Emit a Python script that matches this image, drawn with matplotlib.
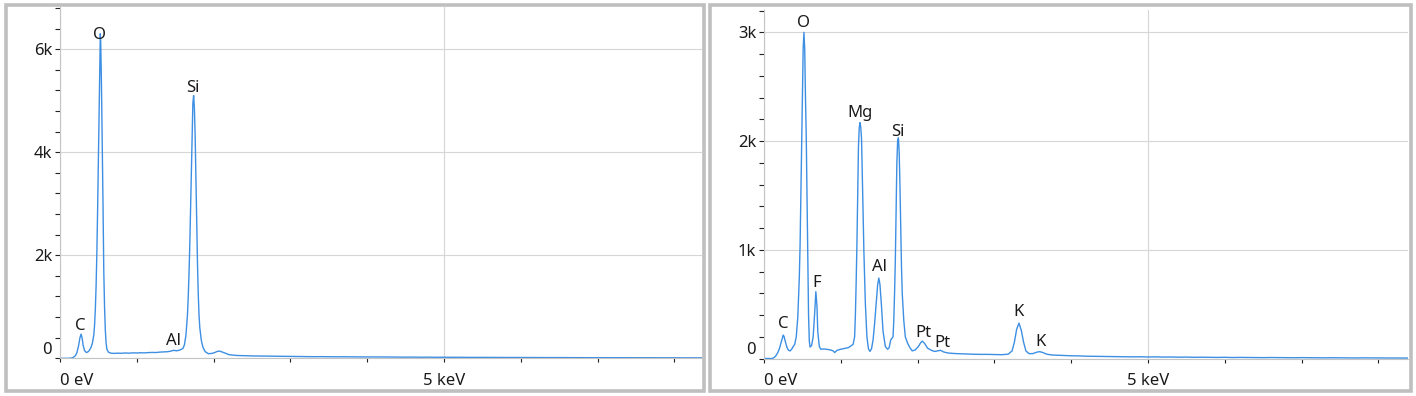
import matplotlib
matplotlib.use('Agg')
import matplotlib.pyplot as plt
from matplotlib.patches import Rectangle
from matplotlib.transforms import ScaledTranslation

plt.rcParams['font.family'] = ['Noto Sans', 'DejaVu Sans']

W, H = 1416, 396
line_color = '#3d8fe3'

# left spectrum (energy keV, counts)
left_energy = [0.00, 0.10, 0.14, 0.17, 0.20, 0.22, 0.24, 0.26, 0.275, 0.29, 0.30, 0.32, 0.34, 0.36,
               0.38, 0.40, 0.42, 0.44, 0.45, 0.46, 0.47, 0.48, 0.49, 0.50, 0.51, 0.52, 0.525, 0.53,
               0.54, 0.55, 0.56, 0.565, 0.57, 0.58, 0.59, 0.60, 0.61, 0.63, 0.66,
               0.70, 0.75, 0.80, 0.85, 0.90, 0.95, 1.00, 1.05, 1.10, 1.15, 1.20, 1.25, 1.30, 1.35,
               1.40, 1.44, 1.48, 1.52, 1.56,
               1.60, 1.62, 1.64, 1.66, 1.67, 1.68, 1.69, 1.70, 1.71, 1.72, 1.73, 1.74, 1.75, 1.76,
               1.77, 1.78, 1.79, 1.80, 1.81, 1.82, 1.84, 1.86, 1.89, 1.93, 1.98, 2.02, 2.05, 2.08,
               2.12, 2.16, 2.20, 2.30,
               2.4, 2.5, 2.6, 2.7, 2.8, 2.9, 3.0, 3.1, 3.2, 3.3, 3.4, 3.5, 3.6, 3.7, 3.8, 3.9,
               4.0, 4.1, 4.2, 4.3, 4.4, 4.5, 4.6, 4.7, 4.8, 4.9, 5.0, 5.1, 5.2, 5.3, 5.4, 5.5,
               5.6, 5.7, 5.8, 5.9, 6.0, 6.1, 6.2, 6.3, 6.4, 6.5, 6.6, 6.7, 6.8, 6.9, 7.0, 7.1,
               7.2, 7.3, 7.4, 7.5, 7.6, 7.7, 7.8, 7.9, 8.0, 8.1, 8.2, 8.3, 8.4]
left_counts = [0, 0, 3, 15, 50, 110, 230, 400, 470, 380, 260, 150, 115, 120,
               150, 200, 280, 450, 640, 950, 1400, 2050, 2900, 3900, 5000, 6000, 6300, 6150,
               5300, 4200, 3000, 2300, 1700, 1000, 550, 300, 180, 120, 100,
               95, 100, 97, 104, 99, 106, 103, 108, 105, 111, 114, 112, 120, 124,
               128, 138, 155, 145, 160,
               190, 260, 450, 850, 1200, 1650, 2200, 2900, 3700, 4400, 4950, 5100, 4850, 4300,
               3500, 2600, 1850, 1250, 850, 600, 350, 220, 130, 90, 95, 115, 135, 140,
               118, 95, 70, 55,
               50, 46, 44, 41, 39, 37, 35, 34, 33, 31, 32, 30, 29, 30, 28, 27,
               27, 25, 26, 24, 24, 22, 23, 21, 22, 20, 21, 19, 20, 18, 19, 18,
               17, 18, 16, 17, 16, 15, 16, 14, 15, 14, 13, 14, 13, 12, 13, 12,
               12, 11, 12, 11, 10, 11, 10, 10, 9, 10, 9, 9, 8]

# right spectrum (energy keV, counts)
right_energy = [0.00, 0.10, 0.12, 0.15, 0.18, 0.20, 0.22, 0.24, 0.25, 0.26, 0.28, 0.30, 0.32, 0.34,
                0.36, 0.38, 0.40, 0.42, 0.44, 0.46, 0.47, 0.48, 0.49, 0.50, 0.51, 0.52, 0.53, 0.54,
                0.55, 0.56, 0.57, 0.58, 0.59, 0.60, 0.62, 0.64, 0.66, 0.675, 0.69, 0.70, 0.72, 0.74,
                0.78, 0.82, 0.86, 0.90, 0.92, 0.95, 1.00, 1.05, 1.10, 1.13,
                1.16, 1.18, 1.19, 1.20, 1.21, 1.22, 1.23, 1.24, 1.25, 1.26, 1.27, 1.28, 1.29, 1.30,
                1.32, 1.34, 1.36, 1.38, 1.40, 1.42, 1.44, 1.46, 1.48, 1.495, 1.51, 1.53, 1.55, 1.58,
                1.61, 1.63, 1.65, 1.68, 1.69, 1.70, 1.71, 1.72, 1.73, 1.74, 1.75, 1.76, 1.77, 1.78,
                1.79, 1.80, 1.82, 1.84, 1.87, 1.90, 1.93, 1.97, 2.01, 2.04, 2.06, 2.09, 2.13, 2.18,
                2.22, 2.26, 2.30, 2.34, 2.40, 2.50, 2.60, 2.70, 2.80, 2.90, 3.00, 3.10, 3.18, 3.23,
                3.26, 3.29, 3.32, 3.35, 3.38, 3.41, 3.45, 3.50, 3.55, 3.59, 3.63, 3.68, 3.75,
                3.9, 4.0, 4.1, 4.2, 4.3, 4.4, 4.5, 4.6, 4.7, 4.8, 4.9, 5.0, 5.1, 5.2, 5.3, 5.4,
                5.5, 5.6, 5.7, 5.8, 5.9, 6.0, 6.1, 6.2, 6.3, 6.4, 6.5, 6.6, 6.7, 6.8, 6.9, 7.0,
                7.1, 7.2, 7.3, 7.4, 7.5, 7.6, 7.7, 7.8, 7.9, 8.0, 8.1, 8.2, 8.3, 8.4]
right_counts = [0, 0, 3, 20, 55, 90, 140, 190, 215, 205, 150, 100, 75, 70,
                85, 110, 130, 200, 380, 750, 1050, 1500, 1950, 2450, 2850, 3000, 2850, 2400,
                2050, 1500, 950, 400, 160, 105, 120, 200, 420, 615, 480, 250, 110, 85,
                88, 84, 80, 70, 55, 75, 85, 92, 100, 115,
                130, 200, 400, 700, 1050, 1500, 1950, 2120, 2170, 2130, 2020, 1700, 1350, 1000,
                500, 200, 90, 65, 90, 170, 320, 500, 680, 740, 680, 480, 250, 110,
                85, 100, 170, 200, 350, 600, 900, 1350, 1800, 2000, 2030, 1900, 1600, 1200,
                850, 600, 350, 200, 140, 100, 70, 80, 110, 145, 160, 140, 95, 75,
                65, 70, 75, 60, 50, 45, 42, 40, 38, 38, 36, 35, 40, 70,
                150, 270, 325, 260, 150, 70, 45, 45, 58, 63, 55, 40, 32,
                28, 25, 24, 21, 20, 18, 19, 17, 16, 15, 16, 14, 15, 13, 14, 12,
                13, 11, 12, 11, 10, 11, 9, 10, 9, 9, 8, 9, 8, 8, 7, 8,
                7, 7, 6, 7, 6, 6, 5, 6, 5, 5, 5, 4, 5, 4]

# peak labels: (text, energy, counts)
left_labels = [('C', 0.26, 630), ('O', 0.52, 6280), ('Al', 1.48, 340), ('Si', 1.73, 5250)]
right_labels = [('O', 0.52, 3090), ('C', 0.25, 320), ('F', 0.68, 690), ('Mg', 1.25, 2260),
                ('Al', 1.50, 840), ('Si', 1.745, 2080), ('Pt', 2.07, 235), ('Pt', 2.32, 143),
                ('K', 3.32, 428), ('K', 3.60, 152)]

left_yticks = [0, 2000, 4000, 6000]
left_yticklabels = ['0', '2k', '4k', '6k']
right_yticks = [0, 1000, 2000, 3000]
right_yticklabels = ['0', '1k', '2k', '3k']


def fig_rect(x0, y0, x1, y1):
    # pixel box (top-left origin) -> figure fraction [left, bottom, width, height]
    return [x0 / W, 1 - y1 / H, (x1 - x0) / W, (y1 - y0) / H]


def draw_panel(fig, box, energy, counts, labels, yticks, yticklabels, ymax, minor_step, xmax):
    ax = fig.add_axes(fig_rect(*box))
    ax.plot(energy, counts, color=line_color, lw=1.0)
    ax.set_xlim(0, xmax)
    ax.set_ylim(0, ymax)

    ax.set_xticks([0, 5])
    ax.set_xticklabels(['0 eV', '5 keV'])
    ax.set_xticks([1, 2, 3, 4, 6, 7, 8], minor=True)
    ax.set_yticks(yticks)
    ax.set_yticklabels(yticklabels)
    minor = []
    v = minor_step
    while v < ymax:
        if v not in yticks:
            minor.append(v)
        v += minor_step
    ax.set_yticks(minor, minor=True)

    ax.tick_params(which='both', direction='out', color='#222222', width=0.8,
                   labelsize=12, labelcolor='#1a1a1a')
    ax.tick_params(axis='y', which='both', length=3.6, pad=2)
    ax.tick_params(axis='x', which='both', length=3, pad=7.5)
    ax.get_xticklabels()[0].set_ha('left')
    lbl = ax.yaxis.get_major_ticks()[0].label1
    lbl.set_transform(lbl.get_transform() + ScaledTranslation(0, 0.1, fig.dpi_scale_trans))

    ax.grid(True, which='major', color='#d6d6d6', lw=0.8)
    ax.set_axisbelow(True)
    for s in ['top', 'right']:
        ax.spines[s].set_visible(False)
    for s in ['left', 'bottom']:
        ax.spines[s].set_color('#c4c4c4')
        ax.spines[s].set_linewidth(0.8)

    for text, e, c in labels:
        ax.text(e, c, text, ha='center', va='center', fontsize=12, color='#1a1a1a')
    return ax


fig = plt.figure(figsize=(W / 100, H / 100), dpi=100)

# panel frames
for x0, x1 in [(5.5, 703.5), (709.5, 1410.5)]:
    fig.patches.append(Rectangle((x0 / W, 1 - 391 / H), (x1 - x0) / W, (391 - 5) / H,
                                 transform=fig.transFigure, fill=False,
                                 edgecolor='#bfbfbf', lw=2.6))

draw_panel(fig, (60, 7, 702, 358.3), left_energy, left_counts, left_labels,
           left_yticks, left_yticklabels, 6820, 400, (702 - 60) / 76.8)
draw_panel(fig, (764, 10, 1408, 358.5), right_energy, right_counts, right_labels,
           right_yticks, right_yticklabels, 3206, 200, (1408 - 764) / 76.8)

plt.savefig('out.png', dpi=100)
